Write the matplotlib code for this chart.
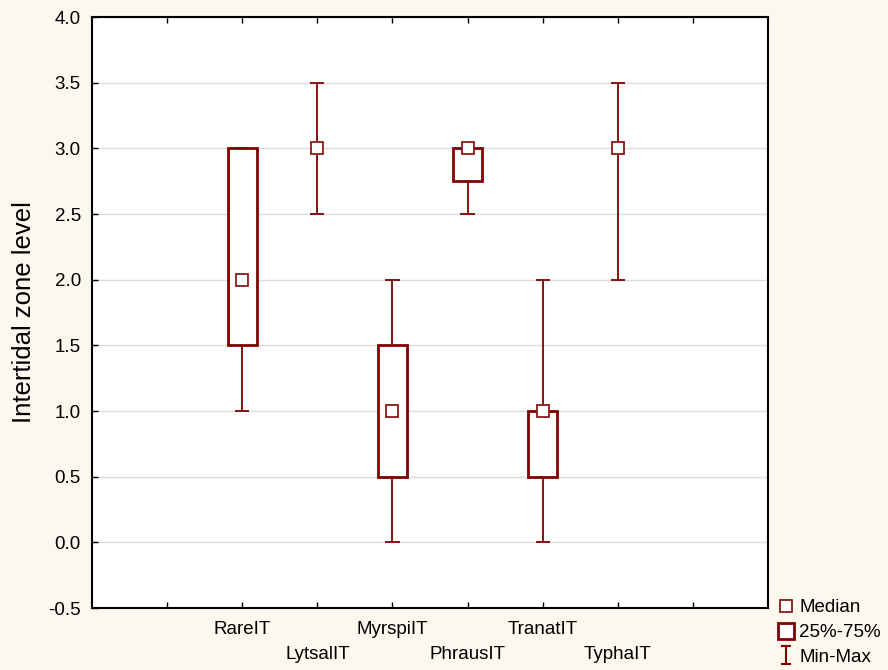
import numpy as np
import matplotlib.pyplot as plt
from matplotlib.lines import Line2D
from matplotlib.path import Path

# --- Daten ---
groups = ["RareIT", "LytsalIT", "MyrspiIT", "PhrausIT", "TranatIT", "TyphaIT"]
medians = [2.0, 3.0, 1.0, 3.0, 1.0, 3.0]
q25 = [1.5, 3.0, 0.5, 2.75, 0.5, 3.0]
q75 = [3.0, 3.0, 1.5, 3.0, 1.0, 3.0]
mins = [1.0, 2.5, 0.0, 2.5, 0.0, 2.0]
maxs = [3.0, 3.5, 2.0, 3.0, 2.0, 3.5]

DARKRED = "#800000"
BG = "#fcf8ee"

plt.rcParams['font.family'] = ['Liberation Sans', 'DejaVu Sans']

fig = plt.figure(figsize=(8.88, 6.70), dpi=100, facecolor=BG)
ax = fig.add_axes([0.1036, 0.0925, 0.7613, 0.8821])
ax.set_facecolor("white")

x = np.arange(2, 2 + len(groups))
box_w = 0.39
cap_w = 0.19

# whiskers (only outside the box)
ax.vlines(x, mins, q25, color=DARKRED, lw=1.3, zorder=2)
ax.vlines(x, q75, maxs, color=DARKRED, lw=1.3, zorder=2)
ax.hlines(mins, x - cap_w / 2, x + cap_w / 2, color=DARKRED, lw=1.3, zorder=2)
ax.hlines(maxs, x - cap_w / 2, x + cap_w / 2, color=DARKRED, lw=1.3, zorder=2)

# boxes 25%-75%, only where there is a box to draw
heights = np.array(q75) - np.array(q25)
has_box = heights > 0
ax.bar(x[has_box], heights[has_box], bottom=np.array(q25)[has_box], width=box_w,
       facecolor="white", edgecolor=DARKRED, linewidth=2, zorder=3)

# median
ax.plot(x, medians, linestyle="none", marker="s", markersize=8,
        markerfacecolor="white", markeredgecolor="#8b1a1a", markeredgewidth=1.3, zorder=4)

ax.set_xlim(0, 9)
ax.set_ylim(-0.5, 4.0)
ax.set_yticks(np.arange(-0.5, 4.01, 0.5))
ax.set_yticklabels([f"{v:.1f}" for v in np.arange(-0.5, 4.01, 0.5)])
ax.yaxis.grid(True, color="#dcdcdc", lw=1)
ax.set_axisbelow(True)

# abwechselnde Beschriftung: obere Reihe als major, untere als minor
ax.set_xticks(x[0::2])
ax.set_xticklabels(groups[0::2])
ax.set_xticks([1] + list(x[1::2]) + [8], minor=True)
ax.set_xticklabels([""] + groups[1::2] + [""], minor=True)

ax.tick_params(axis="both", which="both", direction="in", length=4, width=1,
               top=True, right=False, labelsize=13.5, colors="black")
ax.tick_params(axis="x", which="major", pad=9.5)
ax.tick_params(axis="x", which="minor", pad=27, length=4)
ax.tick_params(axis="y", pad=8)

for s in ax.spines.values():
    s.set_linewidth(1.5)
    s.set_color("black")

ax.set_ylabel("Intertidal zone level", fontsize=18.5, labelpad=9)

# Legende
ibeam = Path([(-0.5, -1), (0.5, -1), (0, -1), (0, 1), (-0.5, 1), (0.5, 1)],
             [Path.MOVETO, Path.LINETO, Path.MOVETO, Path.LINETO, Path.MOVETO, Path.LINETO])
handles = [
    Line2D([], [], linestyle="none", marker="s", markersize=8, markerfacecolor="white",
           markeredgecolor="#8b1a1a", markeredgewidth=1.3),
    Line2D([], [], linestyle="none", marker="s", markersize=12, markerfacecolor="white",
           markeredgecolor=DARKRED, markeredgewidth=2),
    Line2D([], [], linestyle="none", marker=ibeam, markersize=13, markerfacecolor="none",
           markeredgecolor=DARKRED, markeredgewidth=1.5),
]
fig.legend(handles, ["Median", "25%-75%", "Min-Max"], loc="lower left",
           bbox_to_anchor=(0.86, -0.016), frameon=False, fontsize=13.5,
           handlelength=0.8, handletextpad=0.3, labelspacing=0.4, borderpad=0.3)

plt.savefig("out.png", dpi=100, facecolor=BG)
